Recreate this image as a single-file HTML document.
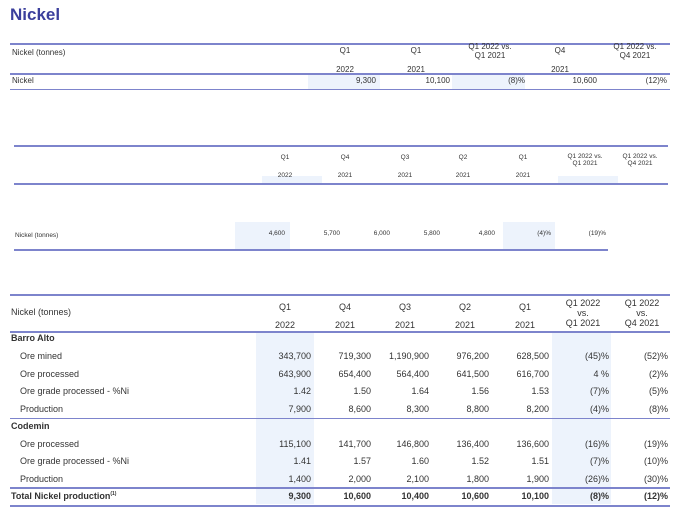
<!DOCTYPE html><html><head><style>
body{margin:0;width:680px;height:516px;background:#fff;position:relative;overflow:hidden;font-family:"Liberation Sans",sans-serif;color:#333}
.a{position:absolute;white-space:nowrap}
.r{text-align:right}.c{text-align:center}
.l{position:absolute;height:2px;background:#7d84cc}
.h{position:absolute;background:#edf3fc}
.t1{font-size:8px}.t2{font-size:6.5px}.t3{font-size:9px}
</style></head><body>
<div class="a" style="left:10px;top:5px;font-size:17px;font-weight:bold;color:#3b3f9c">Nickel</div>
<!-- table1 -->
<div class="l" style="left:10px;top:43px;width:660px"></div>
<div class="h" style="left:308px;top:74px;width:72px;height:15px"></div>
<div class="h" style="left:452px;top:74px;width:73px;height:15px"></div>
<div class="l" style="left:10px;top:73px;width:660px"></div>
<div class="l" style="left:10px;top:89px;width:660px;height:1px"></div>
<div class="a t1" style="left:12px;top:48px">Nickel (tonnes)</div>
<div class="a t1 c" style="left:325px;top:41px;width:40px;line-height:19px">Q1<br>2022</div>
<div class="a t1 c" style="left:396px;top:41px;width:40px;line-height:19px">Q1<br>2021</div>
<div class="a t1 c" style="left:455px;top:42px;width:70px;line-height:9px">Q1 2022 vs.<br>Q1 2021</div>
<div class="a t1 c" style="left:540px;top:41px;width:40px;line-height:19px">Q4<br>2021</div>
<div class="a t1 c" style="left:600px;top:42px;width:70px;line-height:9px">Q1 2022 vs.<br>Q4 2021</div>
<div class="a t1" style="left:12px;top:76px">Nickel</div>
<div class="a t1 r" style="left:300px;width:76px;top:76px">9,300</div>
<div class="a t1 r" style="left:380px;width:70px;top:76px">10,100</div>
<div class="a t1 r" style="left:455px;width:70px;top:76px">(8)%</div>
<div class="a t1 r" style="left:530px;width:67px;top:76px">10,600</div>
<div class="a t1 r" style="left:600px;width:67px;top:76px">(12)%</div>
<!-- table2 -->
<div class="l" style="left:14px;top:145px;width:654px"></div>
<div class="h" style="left:262px;top:176px;width:60px;height:7px"></div>
<div class="h" style="left:558px;top:176px;width:60px;height:7px"></div>
<div class="l" style="left:14px;top:183px;width:654px"></div>
<div class="h" style="left:235px;top:222px;width:55px;height:28px"></div>
<div class="h" style="left:503px;top:222px;width:52px;height:28px"></div>
<div class="l" style="left:14px;top:249px;width:594px"></div>
<div class="a t2 c" style="left:270px;top:149px;width:30px;line-height:18px">Q1<br>2022</div>
<div class="a t2 c" style="left:330px;top:149px;width:30px;line-height:18px">Q4<br>2021</div>
<div class="a t2 c" style="left:390px;top:149px;width:30px;line-height:18px">Q3<br>2021</div>
<div class="a t2 c" style="left:448px;top:149px;width:30px;line-height:18px">Q2<br>2021</div>
<div class="a t2 c" style="left:508px;top:149px;width:30px;line-height:18px">Q1<br>2021</div>
<div class="a t2 c" style="left:555px;top:153px;width:60px;line-height:7px">Q1 2022 vs.<br>Q1 2021</div>
<div class="a t2 c" style="left:612px;top:153px;width:56px;line-height:7px">Q1 2022 vs.<br>Q4 2021</div>
<div class="a t2" style="left:15px;top:232px">Nickel (tonnes)</div>
<div class="a t2 r" style="left:250px;width:35px;top:230px">4,600</div>
<div class="a t2 r" style="left:305px;width:35px;top:230px">5,700</div>
<div class="a t2 r" style="left:355px;width:35px;top:230px">6,000</div>
<div class="a t2 r" style="left:405px;width:35px;top:230px">5,800</div>
<div class="a t2 r" style="left:460px;width:35px;top:230px">4,800</div>
<div class="a t2 r" style="left:515px;width:36px;top:230px">(4)%</div>
<div class="a t2 r" style="left:570px;width:36px;top:230px">(19)%</div>
<!-- table3 -->
<div class="l" style="left:10px;top:294px;width:660px"></div>
<div class="h" style="left:256px;top:332px;width:58px;height:172px"></div>
<div class="h" style="left:552px;top:332px;width:59px;height:172px"></div>
<div class="l" style="left:10px;top:331px;width:660px"></div>
<div class="l" style="left:10px;top:418px;width:660px;height:1px"></div>
<div class="l" style="left:10px;top:487px;width:660px"></div>
<div class="l" style="left:10px;top:505px;width:660px"></div>
<div class="a t3" style="left:11px;top:307px">Nickel (tonnes)</div>
<div class="a t3 c" style="left:265px;top:298px;width:40px;line-height:18px">Q1<br>2022</div>
<div class="a t3 c" style="left:325px;top:298px;width:40px;line-height:18px">Q4<br>2021</div>
<div class="a t3 c" style="left:385px;top:298px;width:40px;line-height:18px">Q3<br>2021</div>
<div class="a t3 c" style="left:445px;top:298px;width:40px;line-height:18px">Q2<br>2021</div>
<div class="a t3 c" style="left:505px;top:298px;width:40px;line-height:18px">Q1<br>2021</div>
<div class="a t3 c" style="left:555px;top:298px;width:56px;line-height:10px">Q1 2022<br>vs.<br>Q1 2021</div>
<div class="a t3 c" style="left:614px;top:298px;width:56px;line-height:10px">Q1 2022<br>vs.<br>Q4 2021</div>
<div id="rows"></div>
<script>
var R=[[333,"Barro Alto",1],[351,"Ore mined",0,"343,700","719,300","1,190,900","976,200","628,500","(45)%","(52)%"],
[369,"Ore processed",0,"643,900","654,400","564,400","641,500","616,700","4 %","(2)%"],
[386,"Ore grade processed - %Ni",0,"1.42","1.50","1.64","1.56","1.53","(7)%","(5)%"],
[404,"Production",0,"7,900","8,600","8,300","8,800","8,200","(4)%","(8)%"],
[421,"Codemin",1],
[439,"Ore processed",0,"115,100","141,700","146,800","136,400","136,600","(16)%","(19)%"],
[456,"Ore grade processed - %Ni",0,"1.41","1.57","1.60","1.52","1.51","(7)%","(10)%"],
[474,"Production",0,"1,400","2,000","2,100","1,800","1,900","(26)%","(30)%"],
[491,"Total Nickel production<sup style='font-size:5px'>(1)</sup>",1,"9,300","10,600","10,400","10,600","10,100","(8)%","(12)%"]];
var E=[311,371,429,489,549,609,668],h="";
R.forEach(function(r){var b=r[2]?"font-weight:bold;":"";h+='<div class="a t3" style="'+b+'left:'+(r[2]?11:20)+'px;top:'+r[0]+'px">'+r[1]+'</div>';
for(var i=3;i<r.length;i++)h+='<div class="a t3 r" style="'+b+'left:'+(E[i-3]-60)+'px;width:60px;top:'+r[0]+'px">'+r[i]+'</div>';});
document.getElementById("rows").innerHTML=h;
</script>
</body></html>
